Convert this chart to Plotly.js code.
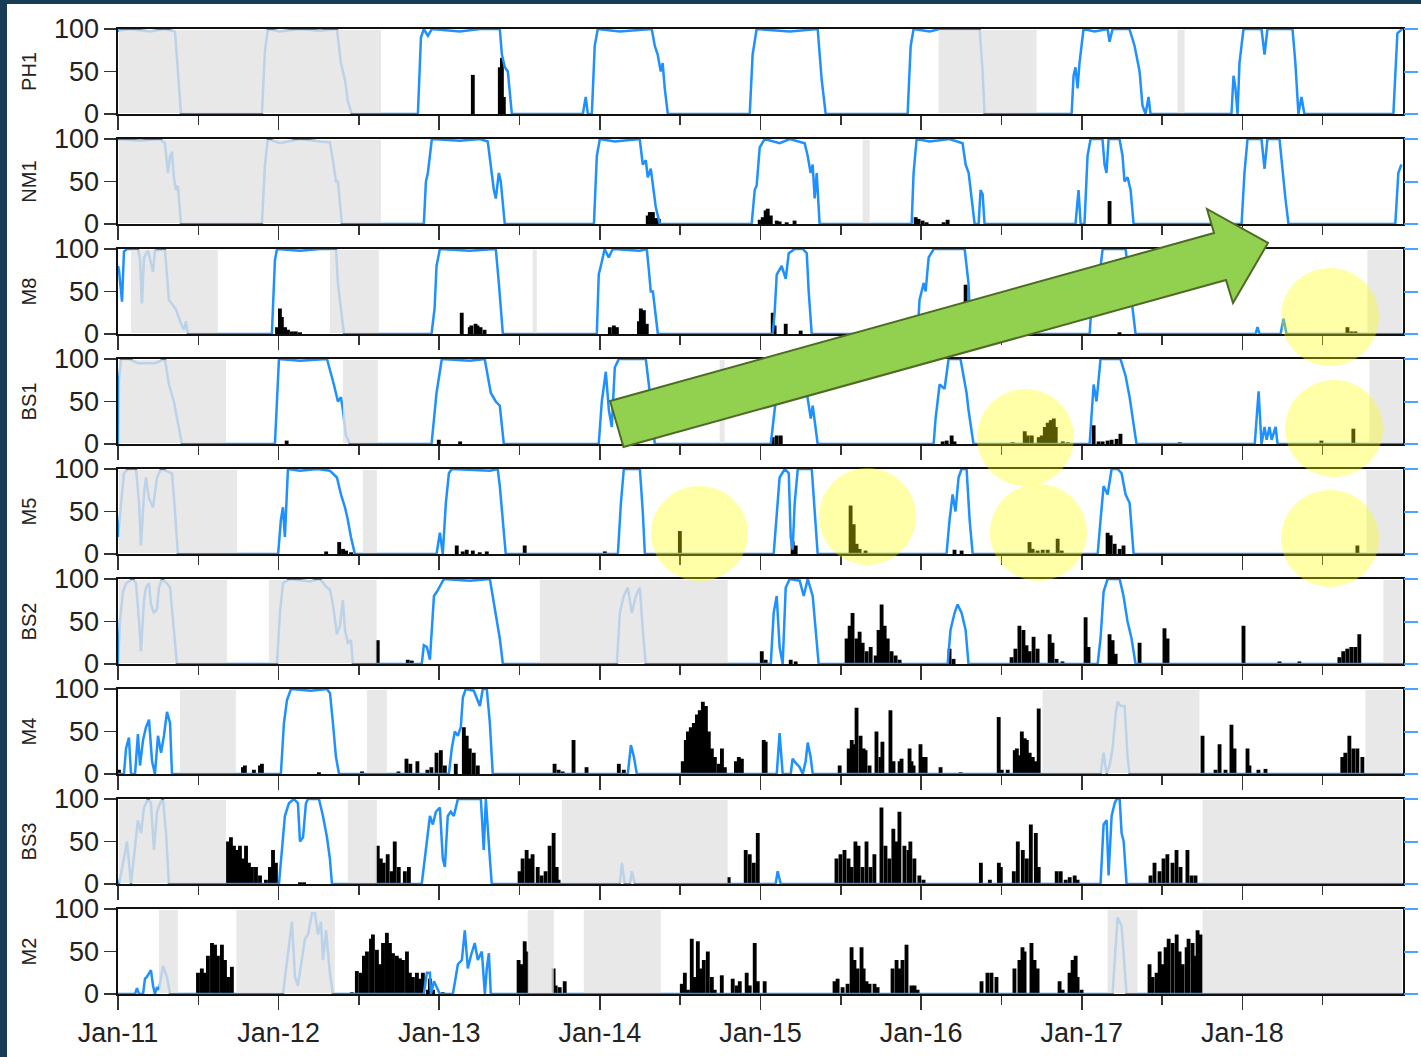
<!DOCTYPE html>
<html><head><meta charset="utf-8">
<script src="https://cdn.plot.ly/plotly-3.0.1.min.js"></script>
<style>
html,body{margin:0;padding:0;background:#fff;}
#chart{width:1421px;height:1057px;}
.edge{position:absolute;background:#173d56;z-index:10;}
</style></head>
<body>
<div id="chart"></div>
<div class="edge" style="left:0;top:0;width:1421px;height:4px"></div>
<div class="edge" style="left:0;top:0;width:7px;height:1057px"></div>
<script>
// ---------------- DATA ----------------
const tickYears = [2011,2012,2013,2014,2015,2016,2017,2018];
const tickLabels = ['Jan-11','Jan-12','Jan-13','Jan-14','Jan-15','Jan-16','Jan-17','Jan-18'];
const midYears = [2011.5,2012.5,2013.5,2014.5,2015.5,2016.5,2017.5,2018.5];
const stationNames = ['PH1','NM1','M8','BS1','M5','BS2','M4','BS3','M2'];
const yTicks = [0,50,100];

// ice concentration [decimal year, %]
const PH1_ice = [[2011.000,98],[2011.075,100],[2011.199,97],[2011.292,100],[2011.355,97],[2011.373,50],[2011.392,0],[2011.896,0],[2011.915,75],[2011.933,100],[2012.008,97],[2012.133,100],[2012.257,98],[2012.363,100],[2012.388,60],[2012.413,40],[2012.431,15],[2012.456,0],[2012.867,0],[2012.886,90],[2012.904,100],[2012.929,92],[2012.954,100],[2013.128,97],[2013.253,100],[2013.377,100],[2013.390,70],[2013.408,55],[2013.427,50],[2013.452,0],[2013.894,0],[2013.912,20],[2013.925,0],[2013.950,0],[2013.968,80],[2013.987,100],[2014.124,97],[2014.323,100],[2014.342,80],[2014.360,70],[2014.379,50],[2014.391,60],[2014.404,30],[2014.423,0],[2014.933,0],[2014.951,70],[2014.976,100],[2015.182,97],[2015.356,100],[2015.381,40],[2015.406,0],[2015.916,0],[2015.935,80],[2015.953,100],[2016.053,97],[2016.115,100],[2016.364,100],[2016.383,50],[2016.395,0],[2016.937,0],[2016.949,45],[2016.961,55],[2016.974,30],[2016.986,60],[2017.011,100],[2017.080,97],[2017.161,100],[2017.173,85],[2017.192,100],[2017.297,100],[2017.329,80],[2017.360,50],[2017.378,10],[2017.397,0],[2017.416,20],[2017.428,0],[2017.932,0],[2017.945,45],[2017.957,30],[2017.970,0],[2017.982,60],[2018.007,100],[2018.119,100],[2018.138,70],[2018.156,100],[2018.312,100],[2018.330,60],[2018.349,0],[2018.368,20],[2018.386,0],[2018.940,0],[2018.965,95],[2018.996,100]];
const NM1_ice = [[2011.000,100],[2011.137,98],[2011.261,100],[2011.292,95],[2011.311,60],[2011.324,80],[2011.336,85],[2011.348,55],[2011.361,40],[2011.373,45],[2011.392,0],[2011.896,0],[2011.915,70],[2011.933,100],[2012.008,95],[2012.133,100],[2012.257,97],[2012.319,96],[2012.338,75],[2012.357,50],[2012.369,50],[2012.394,0],[2012.904,0],[2012.917,50],[2012.929,60],[2012.954,100],[2013.128,98],[2013.253,100],[2013.302,97],[2013.321,70],[2013.340,40],[2013.352,30],[2013.371,60],[2013.383,50],[2013.408,0],[2013.963,0],[2013.981,80],[2014.000,100],[2014.093,97],[2014.248,100],[2014.267,70],[2014.286,75],[2014.298,55],[2014.317,65],[2014.336,40],[2014.348,20],[2014.373,0],[2014.945,0],[2014.964,40],[2014.976,45],[2014.995,90],[2015.026,100],[2015.119,95],[2015.182,100],[2015.275,95],[2015.294,80],[2015.312,60],[2015.325,70],[2015.337,30],[2015.350,60],[2015.368,0],[2015.941,0],[2015.953,60],[2015.972,100],[2016.053,97],[2016.177,100],[2016.258,95],[2016.277,70],[2016.296,60],[2016.314,30],[2016.333,0],[2016.358,0],[2016.370,40],[2016.383,35],[2016.395,0],[2016.961,0],[2016.980,40],[2016.993,0],[2017.017,0],[2017.036,80],[2017.055,100],[2017.129,100],[2017.142,70],[2017.154,60],[2017.167,100],[2017.235,100],[2017.254,80],[2017.266,50],[2017.285,55],[2017.304,40],[2017.323,0],[2017.995,0],[2018.013,60],[2018.032,100],[2018.119,100],[2018.138,65],[2018.156,100],[2018.231,100],[2018.250,60],[2018.268,30],[2018.287,0],[2018.952,0],[2018.971,60],[2018.990,70]];
const M8_ice = [[2011.000,80],[2011.006,75],[2011.025,38],[2011.037,97],[2011.056,100],[2011.124,100],[2011.137,88],[2011.149,36],[2011.162,90],[2011.187,98],[2011.218,73],[2011.230,98],[2011.292,100],[2011.317,40],[2011.361,29],[2011.386,15],[2011.411,5],[2011.423,15],[2011.436,0],[2011.958,0],[2011.977,87],[2011.990,100],[2012.133,98],[2012.257,100],[2012.357,100],[2012.369,60],[2012.394,20],[2012.407,0],[2012.952,0],[2012.971,30],[2012.983,80],[2013.004,100],[2013.190,98],[2013.352,100],[2013.371,60],[2013.396,0],[2013.981,0],[2013.993,70],[2014.006,80],[2014.030,100],[2014.055,90],[2014.080,100],[2014.248,98],[2014.292,100],[2014.305,75],[2014.317,50],[2014.330,50],[2014.361,0],[2015.076,0],[2015.088,25],[2015.101,70],[2015.132,80],[2015.157,65],[2015.176,95],[2015.213,100],[2015.263,100],[2015.288,95],[2015.300,50],[2015.319,0],[2015.978,0],[2015.990,40],[2016.016,60],[2016.028,50],[2016.047,90],[2016.078,100],[2016.271,100],[2016.295,60],[2016.308,0],[2017.049,0],[2017.061,40],[2017.074,70],[2017.105,60],[2017.130,100],[2017.273,100],[2017.298,60],[2017.335,0],[2018.082,0],[2018.094,8],[2018.107,0],[2018.238,0],[2018.256,18],[2018.275,0],[2019.000,0]];
const BS1_ice = [[2011.000,0],[2011.006,75],[2011.019,100],[2011.068,100],[2011.124,95],[2011.230,95],[2011.292,100],[2011.317,70],[2011.348,50],[2011.373,25],[2011.398,0],[2011.977,0],[2011.990,60],[2012.002,100],[2012.133,98],[2012.301,100],[2012.344,70],[2012.369,50],[2012.388,55],[2012.400,40],[2012.419,10],[2012.444,0],[2012.952,0],[2012.983,60],[2013.016,100],[2013.190,98],[2013.283,100],[2013.321,60],[2013.352,50],[2013.377,45],[2013.402,0],[2013.993,0],[2014.012,50],[2014.037,85],[2014.056,40],[2014.074,20],[2014.093,90],[2014.118,100],[2014.286,100],[2014.311,60],[2014.342,0],[2015.064,0],[2015.088,40],[2015.101,60],[2015.132,90],[2015.176,100],[2015.256,100],[2015.288,60],[2015.313,30],[2015.325,45],[2015.356,0],[2016.078,0],[2016.090,30],[2016.115,70],[2016.146,65],[2016.171,100],[2016.245,100],[2016.283,60],[2016.295,40],[2016.326,0],[2017.049,0],[2017.074,70],[2017.092,50],[2017.117,100],[2017.241,100],[2017.273,80],[2017.298,55],[2017.341,0],[2018.077,0],[2018.101,62],[2018.119,0],[2018.138,20],[2018.151,5],[2018.169,20],[2018.182,5],[2018.207,20],[2018.219,0],[2019.000,0]];
const M5_ice = [[2011.000,20],[2011.019,60],[2011.037,95],[2011.062,100],[2011.112,100],[2011.131,60],[2011.143,10],[2011.162,70],[2011.174,90],[2011.193,65],[2011.218,55],[2011.243,90],[2011.268,100],[2011.311,97],[2011.336,95],[2011.355,50],[2011.373,0],[2011.997,0],[2012.014,40],[2012.027,55],[2012.039,20],[2012.058,100],[2012.133,98],[2012.245,100],[2012.319,98],[2012.363,90],[2012.388,70],[2012.413,55],[2012.431,40],[2012.450,20],[2012.475,0],[2012.983,0],[2013.004,25],[2013.022,0],[2013.041,60],[2013.060,95],[2013.078,100],[2013.315,98],[2013.364,100],[2013.377,80],[2013.396,40],[2013.414,0],[2014.112,0],[2014.131,60],[2014.149,100],[2014.249,100],[2014.267,50],[2014.280,0],[2015.082,0],[2015.101,50],[2015.119,90],[2015.151,100],[2015.176,95],[2015.188,20],[2015.200,5],[2015.213,60],[2015.232,100],[2015.319,100],[2015.338,50],[2015.356,0],[2016.158,0],[2016.177,40],[2016.196,70],[2016.214,50],[2016.233,90],[2016.252,100],[2016.283,100],[2016.302,40],[2016.321,0],[2017.099,0],[2017.117,40],[2017.136,80],[2017.161,70],[2017.186,100],[2017.223,100],[2017.248,95],[2017.273,70],[2017.298,60],[2017.323,0],[2019.000,0]];
const BS2_ice = [[2011.000,0],[2011.012,50],[2011.031,85],[2011.050,95],[2011.093,100],[2011.112,95],[2011.131,50],[2011.143,15],[2011.162,75],[2011.174,90],[2011.193,95],[2011.205,70],[2011.224,60],[2011.243,65],[2011.255,90],[2011.274,100],[2011.305,95],[2011.324,90],[2011.348,40],[2011.367,0],[2011.990,0],[2012.008,60],[2012.027,95],[2012.071,100],[2012.195,97],[2012.257,100],[2012.301,90],[2012.319,88],[2012.338,70],[2012.363,35],[2012.382,45],[2012.400,75],[2012.413,40],[2012.431,25],[2012.450,28],[2012.463,0],[2012.891,0],[2012.904,22],[2012.923,20],[2012.942,5],[2012.967,80],[2012.985,85],[2013.029,100],[2013.190,98],[2013.315,100],[2013.333,80],[2013.352,60],[2013.377,30],[2013.396,0],[2014.106,0],[2014.124,60],[2014.149,80],[2014.174,90],[2014.199,60],[2014.224,80],[2014.249,90],[2014.267,40],[2014.286,0],[2015.064,0],[2015.082,60],[2015.101,80],[2015.119,20],[2015.138,0],[2015.157,90],[2015.182,100],[2015.244,98],[2015.269,80],[2015.294,100],[2015.325,80],[2015.344,40],[2015.362,0],[2016.165,0],[2016.183,40],[2016.208,60],[2016.227,70],[2016.252,60],[2016.277,40],[2016.295,0],[2017.099,0],[2017.117,30],[2017.136,85],[2017.161,100],[2017.236,100],[2017.260,80],[2017.285,50],[2017.310,30],[2017.335,0],[2019.000,0]];
const M4_ice = [[2011.000,0],[2011.037,0],[2011.050,30],[2011.068,43],[2011.081,0],[2011.106,0],[2011.124,47],[2011.137,10],[2011.156,40],[2011.174,55],[2011.193,64],[2011.212,15],[2011.230,0],[2011.249,45],[2011.268,25],[2011.286,45],[2011.305,73],[2011.324,60],[2011.336,0],[2012.014,0],[2012.033,60],[2012.052,87],[2012.077,100],[2012.200,98],[2012.301,100],[2012.320,95],[2012.338,60],[2012.357,20],[2012.376,0],[2013.060,0],[2013.078,30],[2013.097,50],[2013.116,45],[2013.134,55],[2013.147,90],[2013.165,100],[2013.215,98],[2013.240,85],[2013.253,80],[2013.271,100],[2013.296,100],[2013.315,60],[2013.333,0],[2014.174,0],[2014.193,34],[2014.212,20],[2014.230,0],[2015.101,0],[2015.119,48],[2015.138,0],[2015.188,0],[2015.200,18],[2015.219,13],[2015.244,8],[2015.263,0],[2015.281,15],[2015.294,37],[2015.312,20],[2015.325,0],[2017.117,0],[2017.136,25],[2017.155,0],[2017.173,10],[2017.192,30],[2017.211,70],[2017.223,85],[2017.242,80],[2017.267,80],[2017.285,20],[2017.298,0],[2019.000,0]];
const BS3_ice = [[2011.000,0],[2011.006,0],[2011.037,30],[2011.056,50],[2011.081,0],[2011.106,40],[2011.124,75],[2011.143,60],[2011.162,90],[2011.187,100],[2011.205,95],[2011.224,40],[2011.243,85],[2011.261,95],[2011.280,100],[2011.299,60],[2011.317,0],[2012.002,0],[2012.021,40],[2012.039,80],[2012.064,95],[2012.095,100],[2012.120,95],[2012.133,50],[2012.152,55],[2012.170,95],[2012.183,100],[2012.251,100],[2012.276,80],[2012.301,55],[2012.319,30],[2012.332,0],[2012.891,0],[2012.910,30],[2012.923,55],[2012.942,80],[2012.960,70],[2012.979,85],[2013.004,90],[2013.022,30],[2013.035,20],[2013.053,80],[2013.072,85],[2013.091,80],[2013.116,100],[2013.259,100],[2013.271,60],[2013.277,40],[2013.290,100],[2013.302,60],[2013.315,30],[2013.327,0],[2014.124,0],[2014.137,25],[2014.155,0],[2014.187,0],[2014.199,15],[2014.218,0],[2015.094,0],[2015.107,15],[2015.126,0],[2017.117,0],[2017.136,70],[2017.155,75],[2017.167,10],[2017.186,80],[2017.205,95],[2017.217,100],[2017.236,100],[2017.248,60],[2017.261,50],[2017.279,0],[2019.000,0]];
const M2_ice = [[2011.000,0],[2011.106,0],[2011.118,7],[2011.131,0],[2011.156,0],[2011.168,18],[2011.180,20],[2011.193,25],[2011.205,28],[2011.218,10],[2011.230,0],[2011.243,8],[2011.255,5],[2011.280,33],[2011.305,20],[2011.324,0],[2012.027,0],[2012.083,85],[2012.102,20],[2012.120,10],[2012.164,65],[2012.183,70],[2012.208,95],[2012.226,95],[2012.245,70],[2012.264,85],[2012.276,40],[2012.295,75],[2012.319,25],[2012.338,0],[2012.904,0],[2012.923,25],[2012.942,25],[2012.948,0],[2012.967,15],[2013.004,0],[2013.085,0],[2013.116,35],[2013.141,40],[2013.159,75],[2013.178,30],[2013.197,45],[2013.221,60],[2013.240,40],[2013.265,50],[2013.284,0],[2013.296,30],[2013.309,48],[2013.321,0],[2017.192,0],[2017.223,90],[2017.248,80],[2017.279,0],[2019.000,0]];

// detections [decimal year, value]
const PH1_bars = [[2013.209,46],[2013.377,55],[2013.390,66],[2013.402,20]];
const NM1_bars = [[2014.298,10],[2014.311,14],[2014.330,14],[2014.348,7],[2014.367,6],[2014.995,5],[2015.014,8],[2015.032,16],[2015.045,18],[2015.064,10],[2015.101,4],[2015.119,3],[2015.163,2],[2015.212,4],[2015.966,8],[2015.984,6],[2016.009,4],[2016.034,2],[2016.140,2],[2016.165,5],[2017.173,27]];
const M8_bars = [[2011.990,8],[2012.008,30],[2012.020,20],[2012.040,8],[2012.058,5],[2012.083,3],[2012.107,3],[2012.133,2],[2013.140,25],[2013.190,8],[2013.200,10],[2013.226,12],[2013.238,10],[2013.257,8],[2013.282,5],[2014.062,8],[2014.087,10],[2014.106,8],[2014.243,15],[2014.255,30],[2014.274,28],[2014.292,12],[2015.076,25],[2015.088,10],[2015.157,12],[2015.250,4],[2016.277,58],[2017.235,2],[2018.654,8],[2018.679,3],[2018.704,3]];
const BS1_bars = [[2012.050,4],[2012.997,5],[2013.130,3],[2015.076,8],[2015.101,10],[2015.126,10],[2016.134,3],[2016.159,4],[2016.190,10],[2016.208,3],[2016.570,2],[2016.645,15],[2016.664,10],[2016.689,10],[2016.732,8],[2016.751,10],[2016.770,20],[2016.788,25],[2016.807,28],[2016.826,30],[2016.838,20],[2016.882,3],[2016.913,2],[2017.074,22],[2017.105,3],[2017.130,3],[2017.161,4],[2017.186,5],[2017.217,6],[2017.241,12],[2017.610,2],[2018.492,4],[2018.691,18]];
const M5_bars = [[2012.296,3],[2012.377,14],[2012.401,6],[2012.420,4],[2012.451,2],[2013.109,10],[2013.146,3],[2013.171,5],[2013.209,4],[2013.252,2],[2013.296,3],[2013.532,10],[2014.031,3],[2014.498,27],[2015.200,15],[2015.219,10],[2015.561,57],[2015.580,35],[2015.598,12],[2015.617,6],[2015.654,4],[2016.208,5],[2016.252,4],[2016.675,14],[2016.694,6],[2016.725,4],[2016.757,5],[2016.788,5],[2016.850,18],[2016.875,4],[2017.161,25],[2017.180,22],[2017.205,12],[2017.236,6],[2017.260,10],[2018.716,10]];
const BS2_bars = [[2012.617,28],[2012.804,5],[2012.829,4],[2015.008,15],[2015.032,5],[2015.188,5],[2015.219,3],[2015.536,30],[2015.555,45],[2015.573,60],[2015.598,30],[2015.617,38],[2015.636,25],[2015.661,15],[2015.686,20],[2015.717,10],[2015.735,40],[2015.754,70],[2015.773,45],[2015.792,30],[2015.816,15],[2015.841,10],[2015.866,5],[2016.177,18],[2016.202,6],[2016.563,8],[2016.587,18],[2016.612,45],[2016.637,40],[2016.656,22],[2016.675,15],[2016.700,32],[2016.725,18],[2016.800,35],[2016.818,25],[2016.843,6],[2016.880,3],[2017.024,55],[2017.042,20],[2017.173,35],[2017.192,28],[2017.211,12],[2017.360,25],[2017.515,42],[2017.534,30],[2018.007,45],[2018.231,3],[2018.355,3],[2018.604,8],[2018.628,15],[2018.653,18],[2018.678,20],[2018.703,20],[2018.728,35]];
const M4_bars = [[2011.006,5],[2011.778,8],[2011.790,10],[2011.846,5],[2011.884,10],[2011.896,12],[2012.251,2],[2012.519,3],[2012.746,3],[2012.796,18],[2012.820,12],[2012.864,15],[2012.926,5],[2012.951,8],[2012.983,25],[2013.010,28],[2013.035,10],[2013.103,12],[2013.153,55],[2013.171,45],[2013.190,30],[2013.215,25],[2013.240,10],[2013.718,12],[2013.743,5],[2013.768,3],[2013.836,40],[2013.917,8],[2014.118,12],[2014.149,5],[2014.516,15],[2014.535,40],[2014.548,50],[2014.566,55],[2014.585,60],[2014.604,70],[2014.622,75],[2014.641,85],[2014.660,80],[2014.678,50],[2014.697,30],[2014.716,20],[2014.741,12],[2014.760,30],[2014.778,8],[2014.847,15],[2014.865,20],[2014.884,18],[2015.020,40],[2015.032,38],[2015.493,10],[2015.549,30],[2015.568,40],[2015.580,35],[2015.598,78],[2015.623,45],[2015.642,30],[2015.654,28],[2015.679,10],[2015.722,50],[2015.747,20],[2015.759,38],[2015.809,75],[2015.828,15],[2015.866,15],[2015.878,18],[2015.928,30],[2015.940,15],[2015.953,10],[2015.996,35],[2016.009,20],[2016.028,20],[2016.121,8],[2016.246,2],[2016.483,67],[2016.502,5],[2016.539,5],[2016.583,28],[2016.596,30],[2016.614,22],[2016.627,50],[2016.645,42],[2016.658,40],[2016.676,25],[2016.695,20],[2016.714,15],[2016.732,77],[2017.752,45],[2017.833,5],[2017.858,35],[2017.895,5],[2017.932,58],[2017.951,30],[2018.032,30],[2018.044,10],[2018.100,5],[2018.144,6],[2018.622,20],[2018.641,25],[2018.666,45],[2018.691,30],[2018.716,30],[2018.747,20]];
const BS3_bars = [[2011.685,50],[2011.703,55],[2011.722,45],[2011.741,40],[2011.759,45],[2011.778,30],[2011.797,45],[2011.815,25],[2011.834,20],[2011.859,20],[2011.884,10],[2011.921,5],[2011.946,20],[2011.965,40],[2011.983,25],[2012.133,2],[2012.158,2],[2012.617,45],[2012.636,30],[2012.654,25],[2012.679,35],[2012.704,15],[2012.723,50],[2012.748,20],[2012.786,15],[2012.811,20],[2013.500,15],[2013.519,30],[2013.544,40],[2013.563,30],[2013.581,35],[2013.613,20],[2013.637,10],[2013.662,15],[2013.687,45],[2013.712,60],[2013.731,20],[2013.743,5],[2014.802,8],[2014.908,40],[2014.933,35],[2014.958,25],[2014.983,60],[2015.473,30],[2015.498,35],[2015.523,40],[2015.548,30],[2015.567,20],[2015.591,50],[2015.610,45],[2015.635,20],[2015.660,50],[2015.685,20],[2015.709,35],[2015.753,90],[2015.778,45],[2015.802,30],[2015.827,65],[2015.846,50],[2015.865,85],[2015.896,45],[2015.921,40],[2015.933,50],[2015.958,30],[2015.989,10],[2016.015,5],[2016.372,25],[2016.428,5],[2016.484,25],[2016.496,20],[2016.577,15],[2016.602,50],[2016.633,40],[2016.658,30],[2016.683,70],[2016.714,60],[2016.732,20],[2016.844,15],[2016.869,15],[2016.900,5],[2016.925,8],[2016.956,10],[2016.974,5],[2017.428,10],[2017.453,25],[2017.484,15],[2017.509,30],[2017.533,35],[2017.565,25],[2017.590,40],[2017.615,20],[2017.658,40],[2017.683,10],[2017.708,10]];
const M2_bars = [[2011.498,25],[2011.522,30],[2011.541,25],[2011.560,45],[2011.585,60],[2011.604,58],[2011.622,45],[2011.647,58],[2011.666,40],[2011.685,20],[2011.709,32],[2012.456,2],[2012.487,27],[2012.512,25],[2012.531,45],[2012.550,50],[2012.575,65],[2012.587,70],[2012.612,52],[2012.631,35],[2012.650,60],[2012.674,72],[2012.693,60],[2012.712,48],[2012.736,45],[2012.755,42],[2012.774,40],[2012.799,50],[2012.817,25],[2012.836,20],[2012.861,25],[2012.880,18],[2012.898,25],[2012.929,5],[2012.942,18],[2012.961,5],[2013.022,2],[2013.494,40],[2013.513,35],[2013.532,62],[2013.544,50],[2013.712,30],[2013.725,10],[2013.750,8],[2013.781,15],[2014.510,12],[2014.529,25],[2014.548,5],[2014.572,65],[2014.591,20],[2014.610,62],[2014.628,30],[2014.647,40],[2014.672,50],[2014.697,20],[2014.715,5],[2014.759,22],[2014.827,18],[2014.852,10],[2014.871,15],[2014.914,25],[2014.933,10],[2014.964,60],[2014.983,15],[2015.026,15],[2015.461,15],[2015.480,18],[2015.511,8],[2015.542,12],[2015.567,55],[2015.585,40],[2015.604,30],[2015.629,55],[2015.642,30],[2015.660,15],[2015.679,12],[2015.710,12],[2015.729,8],[2015.822,30],[2015.847,40],[2015.866,30],[2015.884,40],[2015.909,58],[2015.940,10],[2015.959,10],[2015.978,5],[2016.376,15],[2016.413,25],[2016.438,25],[2016.469,20],[2016.581,30],[2016.612,40],[2016.631,55],[2016.644,50],[2016.687,60],[2016.706,40],[2016.725,30],[2016.862,15],[2016.881,5],[2016.924,25],[2016.943,40],[2016.962,45],[2016.974,20],[2016.999,5],[2017.422,35],[2017.441,20],[2017.466,25],[2017.485,50],[2017.503,35],[2017.522,55],[2017.541,65],[2017.566,60],[2017.591,70],[2017.609,50],[2017.628,35],[2017.653,55],[2017.665,65],[2017.690,60],[2017.709,45],[2017.721,75],[2017.740,70]];

// no-data periods [start, end] in decimal years
const PH1_gaps = [[2011.0,2012.637],[2016.109,2016.719],[2017.596,2017.640]];
const NM1_gaps = [[2011.0,2012.637],[2015.636,2015.680]];
const M8_gaps = [[2011.081,2011.622],[2012.319,2012.624],[2013.582,2013.607],[2018.778,2019.0]];
const BS1_gaps = [[2011.0,2011.672],[2012.400,2012.618],[2014.746,2014.777],[2018.791,2019.0]];
const M5_gaps = [[2011.0,2011.741],[2012.525,2012.612],[2018.772,2019.0]];
const BS2_gaps = [[2011.0,2011.678],[2011.940,2012.610],[2013.626,2014.796],[2018.878,2019.0]];
const M4_gaps = [[2011.386,2011.734],[2012.549,2012.674],[2016.756,2017.733],[2018.766,2019.0]];
const BS3_gaps = [[2011.0,2011.672],[2012.431,2012.612],[2013.763,2014.796],[2017.752,2019.0]];
const M2_gaps = [[2011.255,2011.373],[2011.737,2012.350],[2013.551,2013.713],[2013.900,2014.379],[2017.161,2017.347],[2017.752,2019.0]];

const iceSeries = [PH1_ice,NM1_ice,M8_ice,BS1_ice,M5_ice,BS2_ice,M4_ice,BS3_ice,M2_ice];
const barSeries = [PH1_bars,NM1_bars,M8_bars,BS1_bars,M5_bars,BS2_bars,M4_bars,BS3_bars,M2_bars];
const gapSeries = [PH1_gaps,NM1_gaps,M8_gaps,BS1_gaps,M5_gaps,BS2_gaps,M4_gaps,BS3_gaps,M2_gaps];

// ---------------- LAYOUT ----------------
const FONT = 'Liberation Sans, Arial, Helvetica, sans-serif';
const W = 1421, H = 1057, ML = 118, MR = 18, MT = 29, MB = 63;
const PW = W - ML - MR, PHt = H - MT - MB;
const ROW_H = 85, ROW_STEP = 110;
const X0 = 2011, X1 = 2019;
const px2x = px => (px - ML) / PW;
const px2y = py => (H - MB - py) / PHt;
const EDGE_X = 0.9 * (X1 - X0) / PW;   // keep veil inside the frame line
const EDGE_Y = 0.9 / ROW_H;

const traces = [];
const shapes = [];
const layout = {
  width: W, height: H,
  margin: {l: ML, r: MR, t: MT, b: MB},
  paper_bgcolor: '#ffffff', plot_bgcolor: '#ffffff',
  showlegend: false,
  font: {family: FONT, color: '#222'},
  shapes: shapes
};

stationNames.forEach((name, i) => {
  const n = i + 1;
  const sfx = n === 1 ? '' : String(n);
  const xa = 'x' + sfx, ya = 'y' + sfx;
  const top = 1 - (ROW_STEP * i) / PHt;
  const bot = top - ROW_H / PHt;
  const ice = iceSeries[i], gaps = gapSeries[i], bars = barSeries[i];
  const rn = n + stationNames.length;

  traces.push({type: 'scatter', mode: 'lines', x: ice.map(p => p[0]), y: ice.map(p => p[1]),
    xaxis: xa, yaxis: ya, line: {color: '#1e90ff', width: 2.5}, hoverinfo: 'skip'});
  traces.push({type: 'bar', x: bars.map(p => p[0]), y: bars.map(p => p[1]), width: 0.024,
    xaxis: xa, yaxis: ya, marker: {color: '#000', line: {width: 0}}, hoverinfo: 'skip'});
  // placeholder so the right-hand (blue tick) axis gets drawn
  traces.push({type: 'scatter', mode: 'none', x: [null], y: [null], xaxis: xa, yaxis: 'y' + rn, hoverinfo: 'skip'});

  layout['xaxis' + sfx] = {
    domain: [0, 1], anchor: ya, range: [X0, X1], type: 'linear',
    tickmode: 'array', tickvals: tickYears, ticktext: tickLabels,
    ticks: 'outside', ticklen: 14, tickwidth: 1.6, tickcolor: '#333',
    minor: {tickmode: 'array', tickvals: midYears, ticks: 'outside', ticklen: 9, tickwidth: 1.6, tickcolor: '#333', showgrid: false},
    showline: true, linecolor: '#111', linewidth: 1.6, mirror: true,
    showgrid: false, zeroline: false, showticklabels: i === stationNames.length - 1,
    tickfont: {family: FONT, size: 27, color: '#222'}, fixedrange: true
  };
  layout['yaxis' + sfx] = {
    domain: [bot, top], anchor: xa, range: [0, 100],
    tickmode: 'array', tickvals: yTicks,
    ticks: 'outside', ticklen: 12, tickwidth: 1.6, tickcolor: '#333',
    showline: true, linecolor: '#111', linewidth: 1.6, mirror: true,
    showgrid: false, zeroline: false,
    tickfont: {family: FONT, size: 27, color: '#222'},
    title: {text: name, font: {family: FONT, size: 20, color: '#222'}, standoff: 12},
    fixedrange: true
  };
  layout['yaxis' + rn] = {
    overlaying: ya, side: 'right', anchor: xa, range: [0, 100],
    tickmode: 'array', tickvals: yTicks, ticks: 'outside', ticklen: 14, tickwidth: 2,
    tickcolor: '#4aa3ff', showticklabels: false, showline: false, showgrid: false, zeroline: false,
    fixedrange: true
  };

  // semi-opaque grey veil over no-data periods (lightens the ice line beneath)
  gaps.forEach(g => shapes.push({type: 'rect', xref: xa, yref: ya + ' domain',
    x0: Math.max(g[0], X0 + EDGE_X), x1: Math.min(g[1], X1 - EDGE_X), y0: EDGE_Y, y1: 1 - EDGE_Y,
    fillcolor: 'rgba(226,226,226,0.8)', line: {width: 0}, layer: 'above'}));
});

// highlight circles (annotation overlay, pixel-placed)
const circlesPx = [[1330,317,49,49],[1025.5,437.5,48.5,48.5],[1334,428.5,49,48.5],[699.5,533.5,48.5,47.5],[867.5,516.5,48.5,48.5],[1038.5,532.5,48.5,48.5],[1330,538.5,49,48.5]];
circlesPx.forEach(c => shapes.push({type: 'circle', xref: 'paper', yref: 'paper',
  x0: px2x(c[0] - c[2]), x1: px2x(c[0] + c[2]), y0: px2y(c[1] + c[3]), y1: px2y(c[1] - c[3]),
  fillcolor: 'rgba(255,255,0,0.34)', line: {width: 0}, layer: 'above'}));

// green trend arrow (annotation overlay, pixel-placed)
const arrowPx = [[610,401],[1214,233],[1207,209],[1268,243],[1233,303],[1226,280],[623.5,447]];
const arrowPath = arrowPx.map((p, k) => (k ? 'L' : 'M') + px2x(p[0]).toFixed(5) + ',' + px2y(p[1]).toFixed(5)).join(' ') + ' Z';
shapes.push({type: 'path', xref: 'paper', yref: 'paper', path: arrowPath,
  fillcolor: '#92d050', line: {color: '#4e6b26', width: 2}, layer: 'above'});

Plotly.newPlot('chart', traces, layout, {displayModeBar: false, staticPlot: true});
</script>
</body></html>
